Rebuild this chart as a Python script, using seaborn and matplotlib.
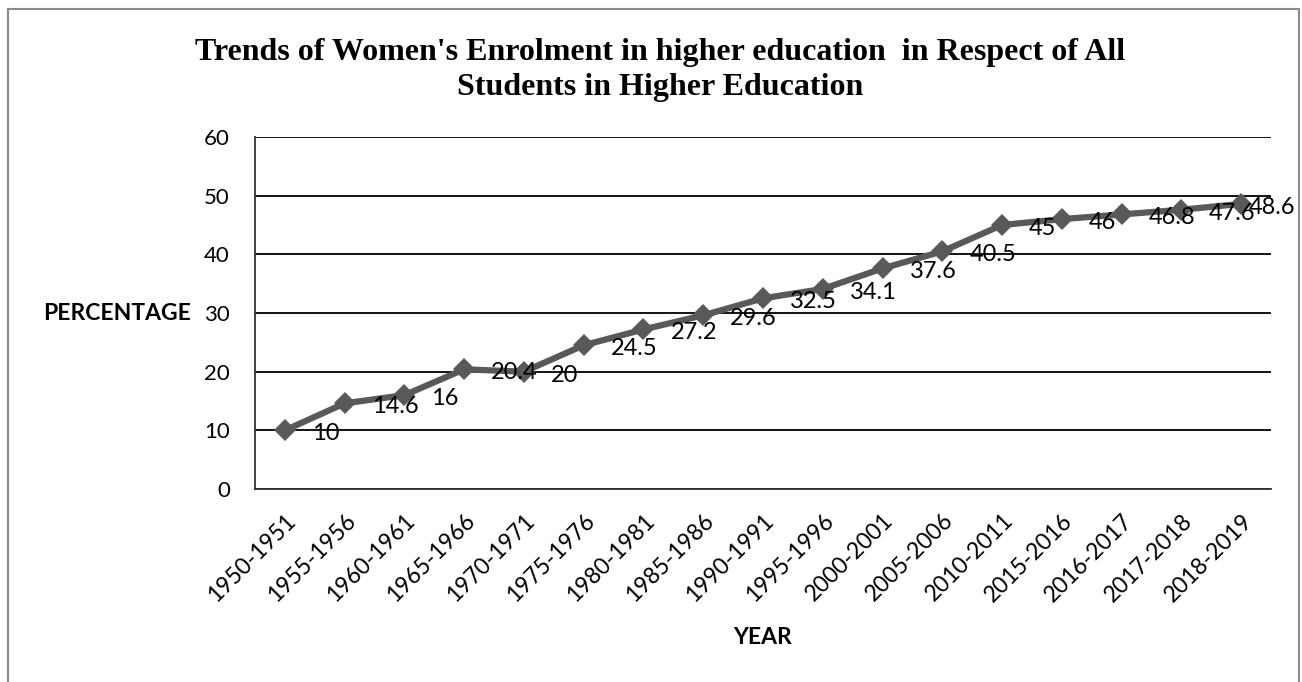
import matplotlib
matplotlib.use("Agg")
import matplotlib.pyplot as plt
import matplotlib.transforms as mtransforms
import seaborn as sns
import pandas as pd
from matplotlib.patches import Rectangle

years = ["1950-1951", "1955-1956", "1960-1961", "1965-1966", "1970-1971",
         "1975-1976", "1980-1981", "1985-1986", "1990-1991", "1995-1996",
         "2000-2001", "2005-2006", "2010-2011", "2015-2016", "2016-2017",
         "2017-2018", "2018-2019"]
percentages = [10, 14.6, 16, 20.4, 20, 24.5, 27.2, 29.6, 32.5, 34.1,
               37.6, 40.5, 45, 46, 46.8, 47.6, 48.6]
value_labels = ["10", "14.6", "16", "20.4", "20", "24.5", "27.2", "29.6", "32.5",
                "34.1", "37.6", "40.5", "45", "46", "46.8", "47.6", "48.6"]
y_ticks = [0, 10, 20, 30, 40, 50, 60]

title = "Trends of Women's Enrolment in higher education  in Respect of All\nStudents in Higher Education"

sns.set_theme(style="white")
plt.rcParams["font.family"] = ["Lato", "DejaVu Sans"]
plt.rcParams["text.color"] = "black"
plt.rcParams["axes.labelcolor"] = "black"

W, H = 1302, 682
fig = plt.figure(figsize=(W / 100, H / 100), dpi=100)
ax = fig.add_axes([255 / W, 1 - 489 / H, (1271 - 255) / W, (489 - 137) / H])

df = pd.DataFrame({"year": years, "pct": percentages})
sns.lineplot(data=df, x="year", y="pct", ax=ax, color="#595959", linewidth=4.5,
             marker="D", markersize=11.5, markeredgewidth=0, sort=False, zorder=5)

ax.set_xlim(-0.5, len(years) - 0.5)
ax.set_ylim(0, 60)
ax.set_yticks(y_ticks)
ax.set_yticklabels([str(t) for t in y_ticks], fontsize=16)
ax.yaxis.grid(True, color="black", linewidth=1.3)
ax.xaxis.grid(False)
ax.set_axisbelow(True)

ax.set_xticks(range(len(years)))
ax.set_xticklabels(years, rotation=45, ha="right", rotation_mode="anchor", fontsize=16.5)
shift = mtransforms.ScaledTranslation(-5 / 100, 0, fig.dpi_scale_trans)
for lbl in ax.get_xticklabels():
    lbl.set_transform(lbl.get_transform() + shift)
ax.set_xticks([i - 0.5 for i in range(len(years) + 1)], minor=True)
ax.tick_params(axis="x", which="major", length=0, pad=15)
ax.tick_params(axis="x", which="minor", length=6, width=1.3, color="#333333", direction="out")
ax.tick_params(axis="y", which="major", length=6, width=1.3, color="#333333", direction="out", pad=12)
ax.tick_params(axis="both", labelcolor="black")

for s in ["top", "right"]:
    ax.spines[s].set_visible(False)
for s in ["left", "bottom"]:
    ax.spines[s].set_visible(True)
    ax.spines[s].set_color("#333333")
    ax.spines[s].set_linewidth(1.3)

ax.set_xlabel("YEAR", fontsize=16.5, fontweight="bold", color="black")
ax.set_ylabel("PERCENTAGE", fontsize=16.5, fontweight="bold", rotation=0,
              ha="right", va="center", color="black")
ax.yaxis.set_label_coords(-0.063, 0.5)
ax.xaxis.set_label_coords(0.5, -0.422)
ax.xaxis.label.set_va("center")

n = len(years)
for i, (v, lab) in enumerate(zip(percentages, value_labels)):
    dx = 19.5 if i < n - 1 else 5.5
    ax.annotate(lab, (i, v), xytext=(dx, -2.5), textcoords="offset points",
                ha="left", va="center", fontsize=17, color="black", zorder=6,
                annotation_clip=False)

fig.text(660 / W, 1 - 70 / H, title, ha="center", va="center",
         family=["Liberation Serif", "DejaVu Serif"], fontweight="bold",
         fontsize=23, linespacing=1.28, color="black")

fig.patches.append(Rectangle((8 / W, -0.05), (1299 - 8) / W, 1 - 9 / H + 0.05,
                             transform=fig.transFigure, fill=False,
                             edgecolor="#8c8c8c", linewidth=1.5))

fig.savefig("out.png", dpi=100, facecolor="white")
